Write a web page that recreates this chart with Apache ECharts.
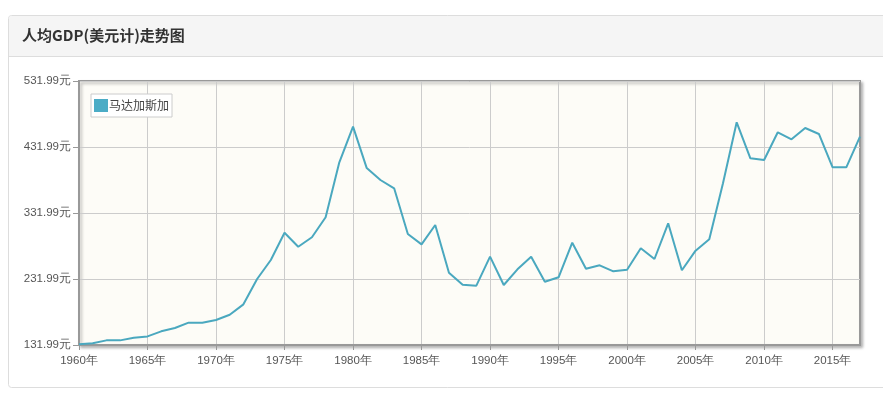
<!DOCTYPE html>
<html><head><meta charset="utf-8">
<script src="https://cdn.jsdelivr.net/npm/echarts@6/dist/echarts.min.js"></script>
<style>html,body{margin:0;padding:0;background:#fff}#c{width:883px;height:394px}</style>
</head><body><div id="c"></div>
<script>
const years = [];
for (let y = 1960; y <= 2017; y++) years.push(y + '年');
const seriesName = '马达加斯加';
const gdp = [133,134.5,139,139,143,145,152.7,157.7,165.8,165.8,
 169.9,177.9,193.6,232,260.8,302,280.9,295.2,325.5,408.8,
 462.8,400,382,369.4,300.2,284.5,313.8,241.5,223.4,221.9,
 265.8,222.9,246.7,265.8,227.9,234.6,287,247.6,252.7,243.6,
 246.1,278.5,262.3,316.4,245.2,274.9,292.1,377,469.4,414.9,
 412.3,454.3,443.6,460.8,451.7,401.2,401.2,447.6];
const titleText = '人均GDP(美元计)走势图';

const chart = echarts.init(document.getElementById('c'));
chart.setOption({
  animation: false,
  graphic: [
    {type:'rect', shape:{x:8.5,y:15.5,width:880,height:372,r:3}, style:{fill:'#fff',stroke:'#ddd',lineWidth:1}, z:-10},
    {type:'rect', shape:{x:9,y:16,width:879,height:40,r:[3,3,0,0]}, style:{fill:'#f5f5f5'}, z:-9},
    {type:'line', shape:{x1:9,y1:56.5,x2:883,y2:56.5}, style:{stroke:'#ddd',lineWidth:1}, z:-9}
  ],
  title: {
    text: titleText, left: 17, top: 23,
    textStyle: {fontSize: 15, fontWeight: 'bold', color: '#333', fontFamily: 'Noto Sans CJK SC'}
  },
  legend: {
    data: [seriesName], left: 91, top: 94, orient: 'vertical',
    icon: 'rect', itemWidth: 14, itemHeight: 13, itemGap: 0,
    padding: [5, 3, 5, 3],
    borderColor: '#ccc', borderWidth: 1, backgroundColor: '#fff',
    textStyle: {fontSize: 12, color: '#444', padding: [0,0,0,-4], fontFamily: 'Noto Sans CJK SC'}
  },
  grid: {
    left: 79, right: 23, top: 81, bottom: 49,
    show: true, backgroundColor: '#fdfcf7', borderColor: '#999', borderWidth: 2,
    shadowColor: 'rgba(0,0,0,0.25)', shadowBlur: 3, shadowOffsetX: 2, shadowOffsetY: 2
  },
  xAxis: {
    type: 'category', data: years, boundaryGap: false,
    axisLine: {lineStyle: {color: '#999', width: 2}},
    axisTick: {interval: 4, length: 5, lineStyle: {color: '#999'}},
    axisLabel: {interval: 4, color: '#555', fontSize: 11.5, margin: 10},
    splitLine: {show: true, interval: 4, lineStyle: {color: '#ccc'}}
  },
  yAxis: {
    type: 'value', min: 131.99, max: 531.99, interval: 100,
    axisLine: {show: true, lineStyle: {color: '#999', width: 2}},
    axisTick: {show: true, length: 6, lineStyle: {color: '#999'}},
    axisLabel: {color: '#555', fontSize: 11.5, margin: 8, formatter: v => v.toFixed(2) + '元'},
    splitLine: {show: true, lineStyle: {color: '#ccc'}}
  },
  series: [{
    name: seriesName, type: 'line', data: gdp, symbol: 'none',
    itemStyle: {color: '#4bacc6'},
    lineStyle: {color: '#4aa8bf', width: 2}
  }]
});
</script></body></html>
